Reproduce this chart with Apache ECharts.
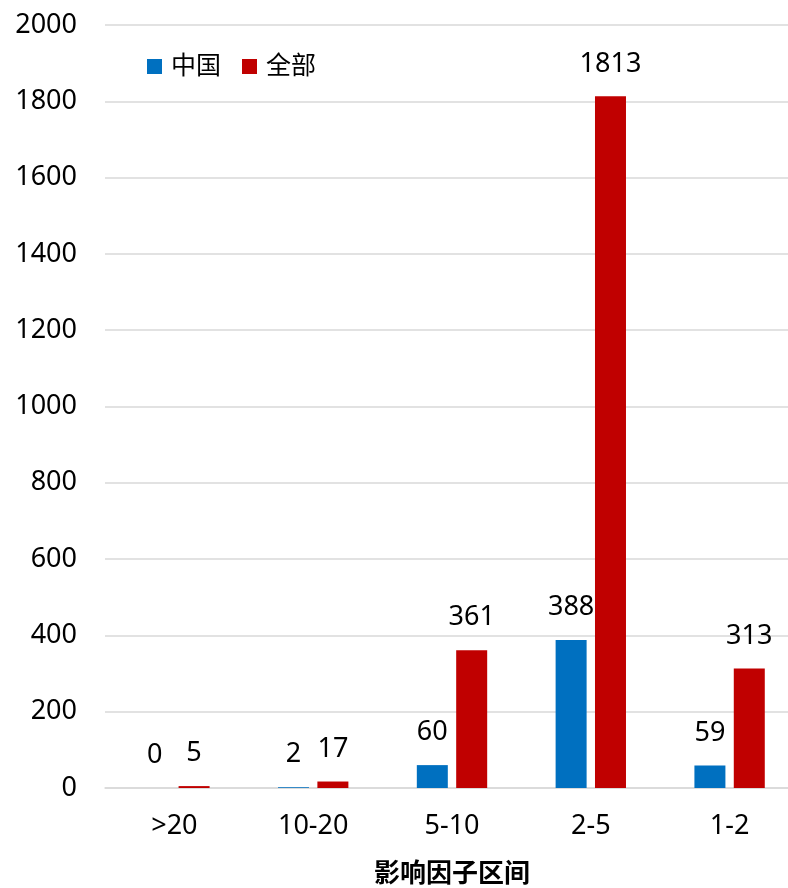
<!DOCTYPE html>
<html>
<head>
<meta charset="utf-8">
<script src="https://cdn.jsdelivr.net/npm/echarts@6/dist/echarts.min.js"></script>
<style>
  html, body { margin: 0; padding: 0; background: #fff; }
  #chart { width: 788px; height: 888px; }
</style>
</head>
<body>
<div id="chart"></div>
<script>
// Impact-factor ranges and paper counts
const categories = ['>20', '10-20', '5-10', '2-5', '1-2'];
const chinaValues = [0, 2, 60, 388, 59];
const allValues = [5, 17, 361, 1813, 313];
const seriesNames = ['中国', '全部'];
const axisTitle = '影响因子区间';

const FONT = "'Noto Sans', 'Noto Sans CJK SC', sans-serif";
const gridColor = '#d9d9d9';

const chart = echarts.init(document.getElementById('chart'), null, { renderer: 'canvas' });

const labelStyle = {
  show: true,
  position: 'top',
  distance: 19,
  color: '#000',
  fontSize: 27,
  fontFamily: FONT
};

chart.setOption({
  animation: false,
  backgroundColor: '#fff',
  textStyle: { fontFamily: FONT },
  legend: {
    left: 142,
    top: 49,
    itemWidth: 15,
    itemHeight: 15,
    itemGap: 21,
    icon: 'rect',
    textStyle: { fontSize: 25, color: '#000', fontFamily: FONT, padding: [0, 0, 0, 4] },
    data: seriesNames
  },
  grid: {
    left: 105,
    right: -11,
    top: 25,
    bottom: 100,
    containLabel: false,
    outerBoundsMode: 'none'
  },
  xAxis: {
    type: 'category',
    data: categories,
    name: axisTitle,
    nameLocation: 'middle',
    nameGap: 74,
    nameTextStyle: { fontSize: 26, fontWeight: 'bold', color: '#000', fontFamily: FONT },
    axisTick: { show: false },
    axisLine: { lineStyle: { color: gridColor, width: 1.5 } },
    axisLabel: { fontSize: 27, color: '#000', margin: 25, fontFamily: FONT }
  },
  yAxis: {
    type: 'value',
    min: 0,
    max: 2000,
    interval: 200,
    axisLine: { show: false },
    axisTick: { show: false },
    splitLine: { lineStyle: { color: gridColor, width: 1.5 } },
    axisLabel: {
      fontSize: 27,
      color: '#000',
      margin: 28,
      fontFamily: FONT,
      formatter: (v) => String(v)
    }
  },
  series: [
    {
      name: seriesNames[0],
      type: 'bar',
      data: chinaValues,
      barWidth: 31,
      barGap: '27%',
      itemStyle: { color: '#0070c0' },
      label: labelStyle
    },
    {
      name: seriesNames[1],
      type: 'bar',
      data: allValues,
      barWidth: 31,
      barGap: '27%',
      itemStyle: { color: '#c00000' },
      label: labelStyle
    }
  ]
});
</script>
</body>
</html>
